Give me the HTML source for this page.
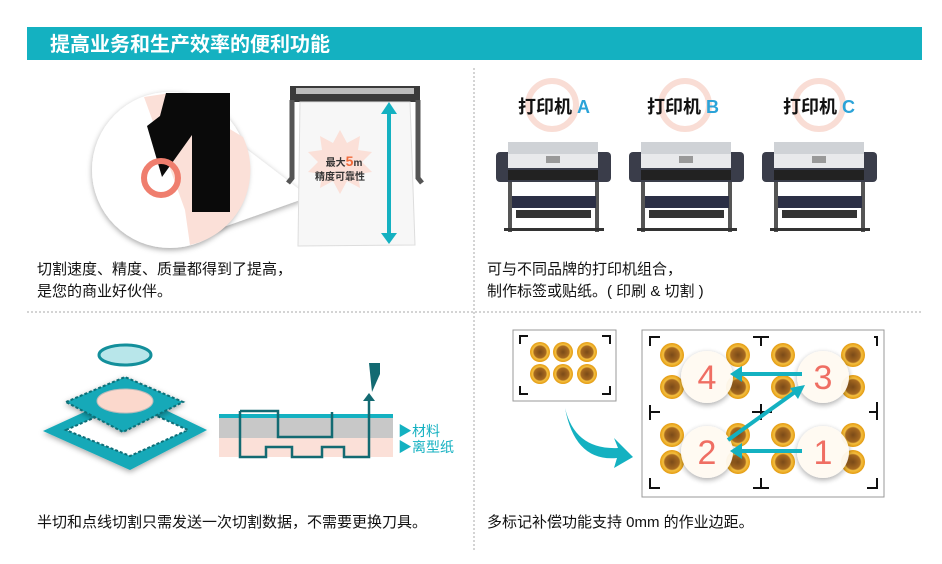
<!DOCTYPE html>
<html><head><meta charset="utf-8"><style>
body{margin:0;background:#fff}
svg{display:block}
text{font-family:"Liberation Sans","Noto Sans CJK SC",sans-serif}
</style></head><body>
<svg width="942" height="564" viewBox="0 0 942 564" xmlns="http://www.w3.org/2000/svg">
<defs>
<radialGradient id="coin" cx="50%" cy="50%" r="50%"><stop offset="0" stop-color="#7a4a18"/><stop offset="0.6" stop-color="#a86a20"/><stop offset="0.72" stop-color="#f5c040"/><stop offset="1" stop-color="#e39a10"/></radialGradient>
<filter id="sh"><feDropShadow dx="0" dy="2" stdDeviation="3" flood-opacity="0.35"/></filter>
<g id="printer">
<rect x="0" y="12" width="115" height="30" rx="4" fill="#3a3d4a"/>
<rect x="12" y="2" width="90" height="14" fill="#cfd2d6"/>
<rect x="12" y="14" width="90" height="14" fill="#e8e9eb"/>
<rect x="50" y="16" width="14" height="7" fill="#999"/>
<rect x="12" y="30" width="90" height="10" fill="#222"/>
<rect x="12" y="42" width="4" height="50" fill="#555"/>
<rect x="99" y="42" width="4" height="50" fill="#555"/>
<rect x="16" y="56" width="84" height="12" fill="#2b2f45"/>
<rect x="20" y="70" width="75" height="8" fill="#333"/>
<rect x="8" y="88" width="100" height="3" fill="#333"/>
</g>
</defs>

<rect x="27" y="27" width="895" height="33" fill="#14b1c1"/>
<text x="50" y="51" font-size="20" font-weight="bold" fill="#fff">提高业务和生产效率的便利功能</text>

<line x1="27" y1="312" x2="922" y2="312" stroke="#aaa" stroke-dasharray="2,2"/>
<line x1="474" y1="68" x2="474" y2="550" stroke="#aaa" stroke-dasharray="2,2"/>

<!-- Panel 1 -->
<polygon points="215,125 300,190 300,200 215,230" fill="#fff" filter="url(#sh)"/>
<circle cx="170" cy="170" r="78" fill="#fff" filter="url(#sh)"/>
<path d="M144,97 L170,93 L243,137 A77,77 0 0,1 190,245 L185,210 Z" fill="#fbe0d8"/>
<polygon points="166,93 230,93 230,212 192,212 192,135 162,177 147,126 160,116" fill="#0a0a0a"/>
<circle cx="161" cy="178" r="17" fill="none" stroke="#ef7e6e" stroke-width="6"/>
<rect x="290" y="86" width="130" height="16" fill="#3a3a3a"/>
<rect x="296" y="88" width="118" height="6" fill="#bbb"/>
<path d="M292,100 L292,178 L288,183" stroke="#555" stroke-width="5" fill="none"/>
<path d="M418,100 L418,178 L422,183" stroke="#555" stroke-width="5" fill="none"/>
<path d="M300,102 L410,102 L415,245 L298,246 Z" fill="#f7f7f7" stroke="#ddd"/>
<polygon points="340,130 347,143 360,136 358,150 372,152 362,162 372,172 358,174 360,188 347,181 340,194 333,181 320,188 322,174 308,172 318,162 308,152 322,150 320,136 333,143" fill="#fbe0d8"/>
<text x="344" y="166" font-size="10" font-weight="bold" text-anchor="middle" fill="#333">最大<tspan fill="#f06a3a" font-size="14">5</tspan>m</text>
<text x="340" y="180" font-size="10" font-weight="bold" text-anchor="middle" fill="#333">精度可靠性</text>
<line x1="389" y1="110" x2="389" y2="236" stroke="#14b1c1" stroke-width="4"/>
<polygon points="381,114 389,102 397,114" fill="#14b1c1"/>
<polygon points="381,233 389,244 397,233" fill="#14b1c1"/>
<text x="37" y="274" font-size="15" fill="#111">切割速度、精度、质量都得到了提高，</text>
<text x="37" y="296" font-size="15" fill="#111">是您的商业好伙伴。</text>

<!-- Panel 2 -->
<circle cx="552" cy="105" r="24" fill="none" stroke="#f9ddd5" stroke-width="6"/>
<circle cx="685" cy="105" r="24" fill="none" stroke="#f9ddd5" stroke-width="6"/>
<circle cx="819" cy="105" r="24" fill="none" stroke="#f9ddd5" stroke-width="6"/>
<text x="518" y="113" font-size="18" font-weight="bold" fill="#111">打印机 <tspan fill="#2ba3d8">A</tspan></text>
<text x="647" y="113" font-size="18" font-weight="bold" fill="#111">打印机 <tspan fill="#2ba3d8">B</tspan></text>
<text x="783" y="113" font-size="18" font-weight="bold" fill="#111">打印机 <tspan fill="#2ba3d8">C</tspan></text>
<use href="#printer" x="496" y="140"/>
<use href="#printer" x="629" y="140"/>
<use href="#printer" x="762" y="140"/>
<text x="487" y="274" font-size="15" fill="#111">可与不同品牌的打印机组合，</text>
<text x="487" y="296" font-size="15" fill="#111">制作标签或贴纸。( 印刷 &amp; 切割 )</text>

<!-- Panel 3 -->
<polygon points="43,431 128,392 207,430 130,470" fill="#12a9b8" filter="url(#sh)"/>
<polygon points="66,430 128,403 188,430 130,456" fill="#fff" stroke="#0f6f78" stroke-dasharray="3,2" stroke-width="2"/>
<polygon points="66,402 125,377 183,402 123,432" fill="#12a9b8" stroke="#0f6f78" stroke-dasharray="3,2" stroke-width="2" filter="url(#sh)"/>
<ellipse cx="125" cy="401" rx="28" ry="12" fill="#fbd8cc" stroke="#bbb"/>
<ellipse cx="125" cy="355" rx="26" ry="10" fill="#b8e6ea" stroke="#138f9b" stroke-width="3"/>
<rect x="219" y="418" width="174" height="20" fill="#c8c8c8"/>
<rect x="219" y="438" width="174" height="19" fill="#fbe0d8"/>
<rect x="219" y="414" width="174" height="4" fill="#14b1c1"/>
<path d="M240,411 V457 H266 V447 H292 V457 H322 V447 H344 V457 H369 V400" fill="none" stroke="#136a72" stroke-width="2.5"/>
<path d="M240,411 H278 V437 H332 V412" fill="none" stroke="#136a72" stroke-width="2.5"/>
<polygon points="363,401 369,393 375,401" fill="#136a72"/>
<polygon points="369,363 380,363 380,374 372,392" fill="#136a72"/>
<text x="398" y="436" font-size="14" fill="#14b1c1">▶材料</text>
<text x="398" y="452" font-size="14" fill="#14b1c1">▶离型纸</text>
<text x="37" y="527" font-size="15" fill="#111">半切和点线切割只需发送一次切割数据，不需要更换刀具。</text>

<!-- Panel 4 -->
<rect x="513" y="330" width="103" height="71" fill="#fff" stroke="#999"/>
<g fill="none" stroke="#111" stroke-width="2">
<path d="M520,344 V336 H528"/><path d="M602,336 H610 V344"/><path d="M520,386 V394 H528"/><path d="M602,394 H610 V386"/>
</g>
<g fill="url(#coin)">
<circle cx="540" cy="352" r="10"/><circle cx="563" cy="352" r="10"/><circle cx="587" cy="352" r="10"/>
<circle cx="540" cy="374" r="10"/><circle cx="563" cy="374" r="10"/><circle cx="587" cy="374" r="10"/>
</g>
<path d="M565,408 Q575,450 618,448 L614,438 L633,457 L614,468 L617,458 Q575,462 565,408 Z" fill="#14b1c1"/>
<rect x="642" y="330" width="242" height="167" fill="#fff" stroke="#999"/>
<g fill="url(#coin)">
<circle cx="672" cy="355" r="12"/><circle cx="738" cy="355" r="12"/><circle cx="783" cy="355" r="12"/><circle cx="853" cy="355" r="12"/>
<circle cx="672" cy="387" r="12"/><circle cx="738" cy="387" r="12"/><circle cx="783" cy="387" r="12"/><circle cx="853" cy="387" r="12"/>
<circle cx="672" cy="435" r="12"/><circle cx="738" cy="435" r="12"/><circle cx="783" cy="435" r="12"/><circle cx="853" cy="435" r="12"/>
<circle cx="672" cy="462" r="12"/><circle cx="738" cy="462" r="12"/><circle cx="783" cy="462" r="12"/><circle cx="853" cy="462" r="12"/>
</g>
<g fill="none" stroke="#111" stroke-width="2">
<path d="M650,346 V337 H660"/><path d="M874,337 H877 V346"/><path d="M761,337 V346 M753,337 H769"/>
<path d="M650,412 H660 M650,405 V420"/><path d="M877,402 V420 M869,412 H877"/>
<path d="M752,412 H772 M761,404 V420"/>
<path d="M650,478 V488 H660"/><path d="M877,478 V488 H867"/><path d="M761,478 V488 M753,488 H769"/>
</g>
<g fill="#fffaf2" opacity="0.95" filter="url(#sh)">
<circle cx="707" cy="377" r="26"/><circle cx="823" cy="377" r="26"/>
<circle cx="707" cy="452" r="26"/><circle cx="823" cy="452" r="26"/>
</g>
<g stroke="#14b1c1" stroke-width="4" fill="#14b1c1">
<line x1="802" y1="374" x2="738" y2="374"/><polygon points="730,374 742,366 742,382" stroke="none"/>
<line x1="802" y1="451" x2="738" y2="451"/><polygon points="730,451 742,443 742,459" stroke="none"/>
<line x1="728" y1="440" x2="795" y2="392"/><polygon points="805,385 790,388 798,399" stroke="none"/>
</g>
<g font-size="34" fill="#ef6e63" text-anchor="middle">
<text x="707" y="389">4</text><text x="823" y="389">3</text>
<text x="707" y="464">2</text><text x="823" y="464">1</text>
</g>
<text x="487" y="527" font-size="15" fill="#111">多标记补偿功能支持 0mm 的作业边距。</text>
</svg>
</body></html>
